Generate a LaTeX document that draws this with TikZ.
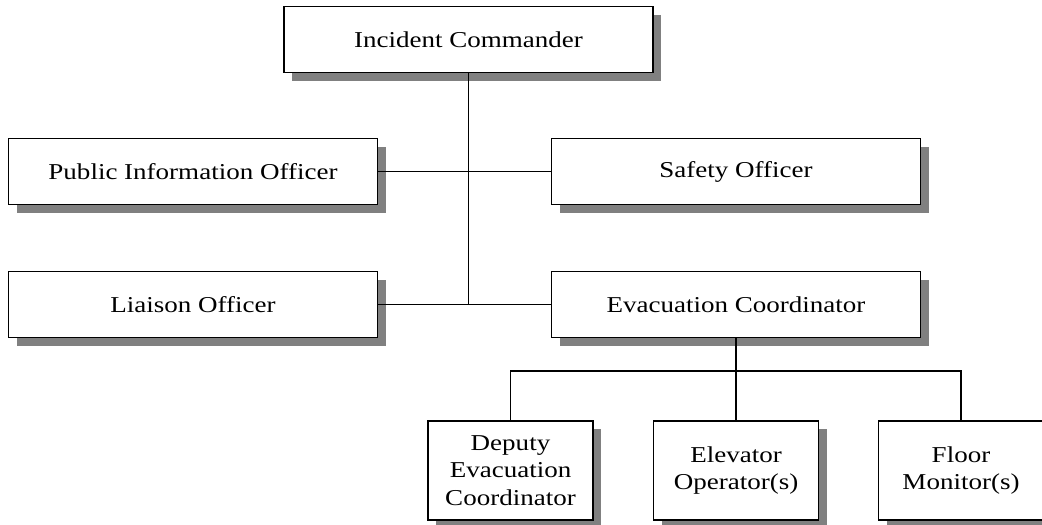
\documentclass[tikz,border=0pt]{standalone}
\usepackage{fontspec}
\setmainfont{Liberation Serif}[FakeStretch=1.19]
\usetikzlibrary{shadows}
\begin{document}
\begin{tikzpicture}[x=1pt,y=-1pt,
  unit/.style={draw=black, line width=1.6pt, fill=white, rectangle,
    inner sep=0pt, align=center,
    font=\fontsize{22.7}{27.5}\selectfont,
    drop shadow={shadow xshift=8pt, shadow yshift=-8pt, fill=black!50, opacity=1}},
  widebox/.style={unit, minimum width=369pt, minimum height=66pt},
  smallbox/.style={unit, minimum width=165pt, minimum height=99pt},
  link/.style={draw=black, line width=1.6pt}]
\useasboundingbox (0,0) rectangle (1042,525);
\fill[white] (0,0) rectangle (1042,525);

% command staff
\node[widebox] (ic)  at (468.5,39.5) {Incident Commander};
\node[widebox] (pio) at (193,171.5)  {Public Information Officer};
\node[widebox] (so)  at (736,171.5)  {Safety Officer};
\node[widebox] (lo)  at (193,304.5)  {Liaison Officer};
\node[widebox] (ec)  at (736,304.5)  {Evacuation Coordinator};

% evacuation team
\node[smallbox] (dec) at (510.5,470.5) {Deputy\\Evacuation\\Coordinator};
\node[smallbox] (eo)  at (736,470.5)   {Elevator\\Operator(s)};
\node[smallbox] (fm)  at (961,470.5)   {Floor\\Monitor(s)};

% connectors
\coordinate (spine) at (ic.south |- lo.east);
\coordinate (bus) at (736,371);
\draw[link] (ic.south) -- (spine);
\draw[link] (pio.east) -- (so.west);
\draw[link] (lo.east) -- (ec.west);
\draw[link] (ec.south) -- (eo.north);
\draw[link] (dec.north) |- (bus) -| (fm.north);
\end{tikzpicture}
\end{document}
